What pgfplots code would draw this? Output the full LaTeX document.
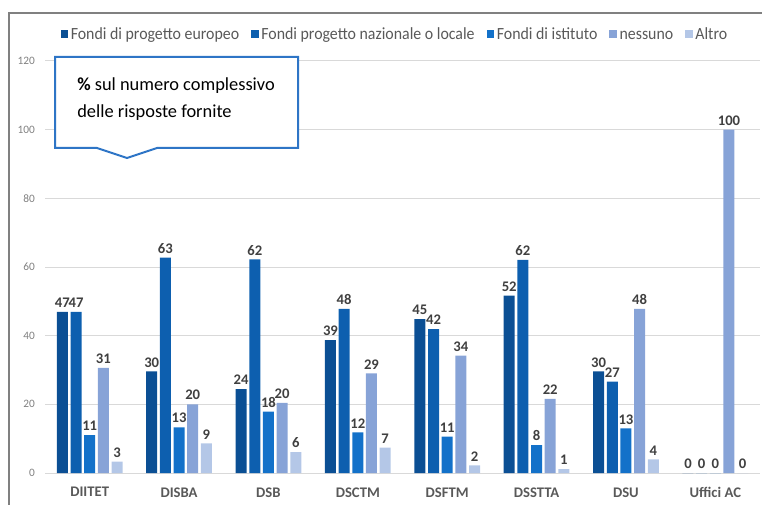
\documentclass[border=0pt]{standalone}
\usepackage{fontspec}
\setmainfont{Carlito}
\newfontfamily\legfont[FakeStretch=0.93]{Carlito}
\usepackage{pgfplots}
\pgfplotsset{compat=1.18}
\definecolor{c1}{RGB}{11,79,148}
\definecolor{c2}{RGB}{13,95,175}
\definecolor{c3}{RGB}{19,113,201}
\definecolor{c4}{RGB}{135,163,215}
\definecolor{c5}{RGB}{180,199,231}
\definecolor{datagray}{RGB}{64,64,64}
\definecolor{labgray}{RGB}{89,89,89}
\definecolor{tickgray}{RGB}{128,128,128}
\definecolor{gridgray}{RGB}{217,217,217}
\definecolor{framegray}{RGB}{128,128,128}
\definecolor{calloutblue}{RGB}{46,117,198}
\begin{document}
\begin{tikzpicture}
\path[use as bounding box] (0,0) rectangle (571.5pt,378pt);
\draw[color=framegray, line width=1.1pt] (6.75pt,-1pt) -- (6.75pt,368.25pt) -- (573pt,368.25pt);
\begin{axis}[
  at={(33.75pt,23.25pt)}, anchor=south west,
  scale only axis, width=536.25pt, height=309pt,
  ybar=2pt, bar width=8.25pt,
  xmin=-0.5, xmax=7.5, ymin=0, ymax=120,
  axis lines*=left,
  xtick={0,...,7},
  xticklabels={DIITET,DISBA,DSB,DSCTM,DSFTM,DSSTTA,DSU,Uffici AC},
  ytick={0,20,...,120},
  axis line style={draw=none},
  tick style={draw=none},
  ymajorgrids, grid style={draw=gridgray, line width=0.75pt},
  xticklabel style={font=\fontsize{11}{13}\selectfont\bfseries, text=labgray, yshift=-3pt},
  yticklabel style={font=\fontsize{8.5}{10}\selectfont, text=tickgray, xshift=-4pt},
  /pgf/number format/assume math mode=true,
  point meta=explicit,
  nodes near coords,
  every node near coord/.append style={font=\fontsize{11}{13}\selectfont\bfseries, text=datagray, anchor=south, yshift=2pt, inner sep=1pt},
  every axis plot post/.append style={legend image code/.code={\fill[##1] (-2pt,-2.8pt) rectangle (3.6pt,2.8pt);}},
  legend style={at={(0.0215,1.0655)}, anchor=west, draw=none, fill=none,
    legend columns=-1, font=\legfont\fontsize{12.8}{15}\selectfont, text=labgray,
    /tikz/every even column/.append style={column sep=7pt}, inner sep=0pt,
    cells={anchor=west, text height=9pt, text depth=2.5pt}},
]
\addplot[fill=c1, draw=none] coordinates {(0,46.9)[47] (1,29.6)[30] (2,24.4)[24] (3,38.7)[39] (4,44.8)[45] (5,51.7)[52] (6,29.6)[30] (7,0)[0]};
\addplot[fill=c2, draw=none] coordinates {(0,46.9)[47] (1,62.7)[63] (2,62.2)[62] (3,47.8)[48] (4,41.9)[42] (5,62.1)[62] (6,26.6)[27] (7,0)[0]};
\addplot[fill=c3, draw=none] coordinates {(0,11.0)[11] (1,13.3)[13] (2,17.9)[18] (3,11.8)[12] (4,10.6)[11] (5,8.1)[8] (6,13.0)[13] (7,0)[0]};
\addplot[fill=c4, draw=none] coordinates {(0,30.6)[31] (1,20.0)[20] (2,20.4)[20] (3,29.0)[29] (4,34.2)[34] (5,21.6)[22] (6,47.8)[48] (7,100)[100]};
\addplot[fill=c5, draw=none] coordinates {(0,3.3)[3] (1,8.6)[9] (2,6.1)[6] (3,7.4)[7] (4,2.2)[2] (5,1.1)[1] (6,4.0)[4] (7,0)[0]};
\legend{Fondi di progetto europeo, Fondi progetto nazionale o locale, Fondi di istituto, nessuno, Altro}
\end{axis}
\draw[calloutblue, line width=1.5pt, fill=white, line join=miter]
  (41.25pt,335.25pt) -- (223.5pt,335.25pt) -- (223.5pt,267pt) -- (117.75pt,267pt)
  -- (95.25pt,259.5pt) -- (72.75pt,267pt) -- (41.25pt,267pt) -- cycle;
\node[anchor=base west, inner sep=0pt, font=\fontsize{13.8}{16}\selectfont, text=black] at (57.75pt,309.75pt) {\textbf{\%} sul numero complessivo};
\node[anchor=base west, inner sep=0pt, font=\fontsize{13.8}{16}\selectfont, text=black] at (57.75pt,289.5pt) {delle risposte fornite};
\end{tikzpicture}
\end{document}
